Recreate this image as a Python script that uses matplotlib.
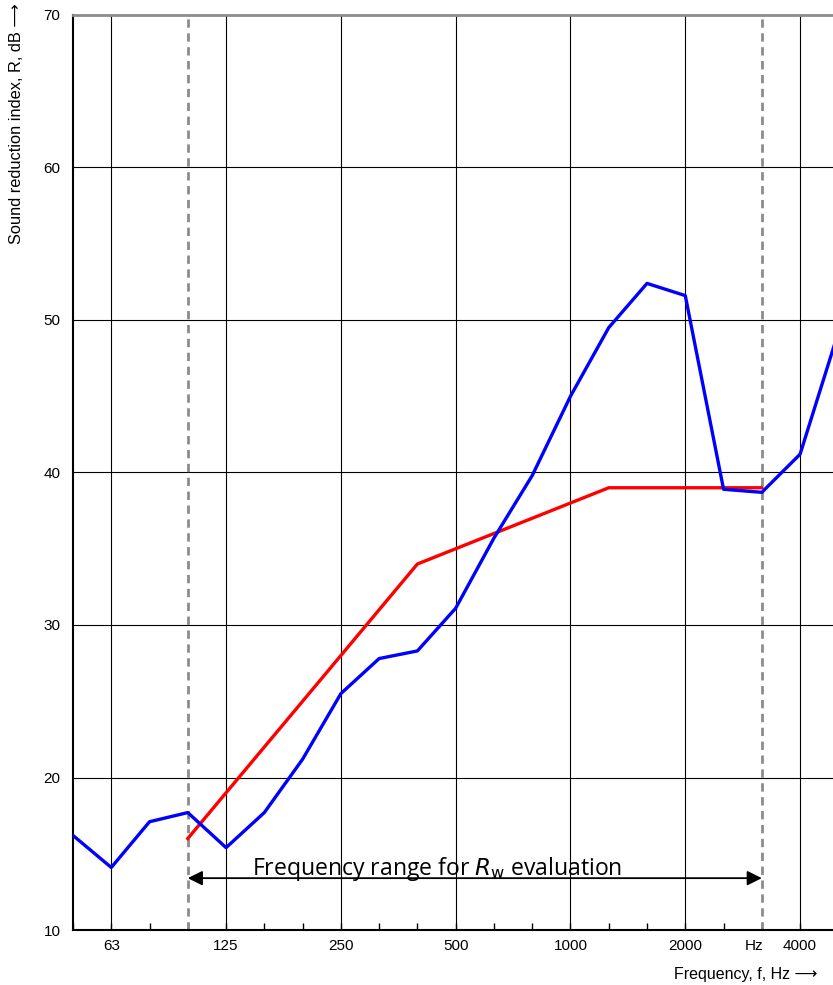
import numpy as np
import matplotlib.pyplot as plt

# third-octave bands, 50 Hz .. 5000 Hz
bands = ['50', '63', '80', '100', '125', '160', '200', '250', '315', '400', '500',
         '630', '800', '1000', '1250', '1600', '2000', '2500', '3150', '4000', '5000']
R_measured = [16.2, 14.1, 17.1, 17.7, 15.4, 17.7, 21.2, 25.5, 27.8, 28.3, 31.1,
              35.7, 39.8, 45.0, 49.5, 52.4, 51.6, 38.9, 38.7, 41.2, 49.2]
ref_bands = ['100', '125', '160', '200', '250', '315', '400', '500',
             '630', '800', '1000', '1250', '1600', '2000', '2500', '3150']
R_ref = [16, 19, 22, 25, 28, 31, 34, 35, 36, 37, 38, 39, 39, 39, 39, 39]
label_bands = ['63', '125', '250', '500', '1000', '2000', '3150', '4000']
label_texts = ['63', '125', '250', '500', '1000', '2000', 'Hz', '4000']
grid_bands = ['63', '125', '250', '500', '1000', '2000', '4000']
range_bands = ['100', '3150']

idx = {b: i for i, b in enumerate(bands)}
x_meas = np.arange(len(bands))
x_ref = [idx[b] for b in ref_bands]

plt.rcParams['font.family'] = ['Liberation Sans', 'DejaVu Sans']

fig = plt.figure(figsize=(8.33, 9.85), dpi=100)
ax = fig.add_axes([73/833, 55/985, 1 - 73/833, 915/985])

# grid
for b in grid_bands:
    ax.axvline(idx[b], color='black', lw=0.8, zorder=1)
for y in range(20, 70, 10):
    ax.axhline(y, color='black', lw=0.8, zorder=1)
for b in range_bands:
    ax.axvline(idx[b], color='#8c8c8c', lw=2, ls=(0, (3, 2)), zorder=2)

ax.plot(x_meas, R_measured, color='#0000ff', lw=2.4, zorder=4)
ax.plot(x_ref, R_ref, color='#ff0000', lw=2.4, zorder=3)

# frequency range arrow
ax.annotate('', xy=(idx['100'], 13.4), xytext=(idx['3150'], 13.4),
            arrowprops=dict(arrowstyle='<|-|>', color='black', lw=1.3,
                            mutation_scale=22, shrinkA=0, shrinkB=0), zorder=5)
ax.text(9.52, 13.6, 'Frequency range for $R_\\mathrm{w}$ evaluation',
        ha='center', va='baseline', fontsize=16.6, family='Open Sans', zorder=5)

ax.set_xticks(x_meas)
ax.set_xticklabels([''] * len(bands))
ax.tick_params(axis='x', direction='in', length=5, width=1)
for b, t in zip(label_bands, label_texts):
    xpos = idx[b] - 0.2 if t == 'Hz' else idx[b]
    ax.text(xpos, 10 - 8.5 / 15.25, t, ha='center', va='top', fontsize=11)

ax.set_yticks(range(10, 71, 10))
ax.tick_params(axis='y', length=0, pad=9, labelsize=11)

# limits last, set_xticks would widen them
ax.set_xlim(0, 19.86)
ax.set_ylim(10, 70)

ax.spines['right'].set_visible(False)
ax.spines['top'].set_color('#8c8c8c')
ax.spines['top'].set_linewidth(2)
ax.spines['left'].set_linewidth(1.5)
ax.spines['bottom'].set_linewidth(1.5)

fig.text(17/833, 1 - 3/985, 'Sound reduction index, R, dB \u27f6', rotation=90,
         ha='center', va='top', fontsize=11.8)
fig.text(817/833, 3/985, 'Frequency, f, Hz \u27f6', ha='right', va='bottom',
         fontsize=11.5)

fig.savefig('out.png', dpi=100)
